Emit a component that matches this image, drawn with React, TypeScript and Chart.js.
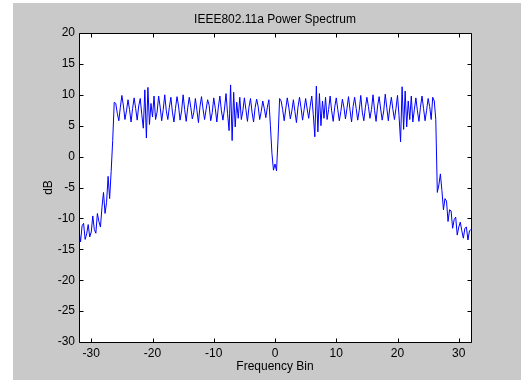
import React, { useEffect, useRef } from 'react';
import { Chart, registerables } from 'chart.js';

Chart.register(...registerables);

const titleText = 'IEEE802.11a Power Spectrum';
const xAxisLabel = 'Frequency Bin';
const yAxisLabel = 'dB';
const xTicks = [-30, -20, -10, 0, 10, 20, 30];
const yTicks = [-30, -25, -20, -15, -10, -5, 0, 5, 10, 15, 20];
const xMin = -32;
const xMax = 32;
const yMin = -30;
const yMax = 20;

// frequency bins start at -32 and advance by a quarter bin
const binStart = -32;
const binStep = 0.25;

// power (dB), one row per integer bin: values at k, k+.25, k+.5, k+.75
const powerDb = [
  -12.0, -13.8, -11.2, -10.8,
  -13.4, -12.5, -11.0, -13.0,
  -12.2, -9.6, -11.8, -12.4,
  -9.2, -10.5, -11.4, -8.2,
  -5.8, -9.2, -7.4, -3.2,
  -6.8, -2.4, 2.6, 8.8,
  8.6, 7.0, 5.8, 8.0,
  9.9, 8.2, 6.0, 7.4,
  9.2, 7.6, 5.6, 7.8,
  9.5, 7.8, 5.9, 8.2,
  9.4, 6.8, 4.6, 10.8,
  3.0, 11.2, 5.2, 8.6,
  6.4, 9.8, 6.0, 7.2,
  9.8, 8.0, 5.8, 7.6,
  10.0, 7.4, 6.0, 8.0,
  9.6, 7.2, 5.6, 7.8,
  9.7, 8.2, 5.9, 7.4,
  10.0, 7.6, 5.7, 7.9,
  9.6, 8.0, 6.1, 7.2,
  9.4, 7.5, 5.5, 8.1,
  9.7, 7.7, 6.0, 7.6,
  9.2, 8.3, 5.8, 7.1,
  9.5, 7.8, 5.6, 8.0,
  9.8, 7.4, 5.9, 7.7,
  10.2, 7.0, 4.2, 11.6,
  2.6, 10.4, 4.8, 8.8,
  6.2, 9.6, 6.0, 7.4,
  9.5, 7.6, 5.7, 8.0,
  9.4, 7.2, 5.6, 7.9,
  9.3, 8.1, 6.0, 7.3,
  9.0, 7.8, 6.3, 8.0,
  9.2, 5.0, 0.5, -2.2,
  -1.2, -2.3, 3.0, 9.4,
  9.0, 7.6, 5.8, 7.7,
  9.5, 8.0, 6.1, 7.4,
  9.2, 7.3, 5.5, 8.0,
  9.6, 7.9, 5.9, 7.6,
  9.4, 7.7, 6.2, 8.2,
  9.8, 6.8, 3.2, 11.4,
  4.0, 10.2, 5.0, 9.0,
  6.2, 9.6, 6.0, 7.6,
  9.8, 7.4, 5.7, 8.0,
  9.5, 7.6, 5.8, 7.3,
  9.3, 8.0, 6.1, 7.8,
  9.7, 7.5, 5.6, 8.1,
  9.6, 7.8, 5.9, 7.5,
  9.9, 7.2, 5.8, 7.9,
  9.6, 8.1, 6.2, 7.6,
  10.0, 7.5, 5.7, 8.2,
  9.7, 7.7, 5.9, 7.4,
  10.1, 7.9, 5.8, 8.0,
  9.6, 7.6, 6.0, 7.8,
  9.9, 6.6, 2.4, 11.3,
  4.4, 10.6, 4.8, 9.0,
  6.0, 9.8, 5.6, 7.6,
  9.5, 7.4, 5.7, 8.0,
  9.8, 7.8, 5.8, 7.5,
  9.4, 8.1, 6.0, 9.6,
  9.0, 6.0, -5.8, -4.6,
  -2.8, -5.5, -8.6, -6.8,
  -7.2, -10.5, -8.6, -8.8,
  -11.6, -10.2, -9.8, -12.7,
  -11.4, -10.6, -12.0, -13.2,
  -11.6, -11.4, -13.5, -12.0,
  -11.8,
];

const FONT = '"Liberation Sans", Arial, Helvetica, sans-serif';

export default function App() {
  const ref = useRef<HTMLCanvasElement>(null);

  useEffect(() => {
    if (!ref.current) return;
    const bins = powerDb.map((_, i) => binStart + i * binStep);

    const boxPlugin = {
      id: 'matlabBox',
      beforeDraw(chart: any) {
        const { ctx, chartArea: a } = chart;
        ctx.save();
        ctx.fillStyle = '#ffffff';
        ctx.fillRect(a.left, a.top, a.right - a.left, a.bottom - a.top);
        ctx.restore();
      },
      afterDraw(chart: any) {
        const { ctx, chartArea: a, scales } = chart;
        const L = Math.floor(a.left) + 0.5;
        const R = Math.floor(a.right) + 0.5;
        const T = Math.floor(a.top) + 0.5;
        const B = Math.floor(a.bottom) + 0.5;
        const tl = 4;
        ctx.save();
        ctx.strokeStyle = '#000000';
        ctx.lineWidth = 1;
        ctx.beginPath();
        ctx.rect(L, T, R - L, B - T);
        xTicks.forEach((v) => {
          const px = Math.round(scales.x.getPixelForValue(v)) + 0.5;
          ctx.moveTo(px, B);
          ctx.lineTo(px, B - tl);
          ctx.moveTo(px, T);
          ctx.lineTo(px, T + tl);
        });
        yTicks.forEach((v) => {
          const py = Math.round(scales.y.getPixelForValue(v)) + 0.5;
          ctx.moveTo(L, py);
          ctx.lineTo(L + tl, py);
          ctx.moveTo(R, py);
          ctx.lineTo(R - tl, py);
        });
        ctx.stroke();
        ctx.restore();
      },
    };

    const chart = new Chart(ref.current, {
      type: 'line',
      data: {
        labels: bins,
        datasets: [
          {
            data: bins.map((b, i) => ({ x: b, y: powerDb[i] })),
            borderColor: '#0000ff',
            borderWidth: 1,
            pointRadius: 0,
            tension: 0,
            fill: false,
          },
        ],
      },
      options: {
        animation: false,
        responsive: false,
        events: [],
        layout: { padding: { left: 0, top: 0, right: 50, bottom: 0 } },
        plugins: {
          legend: { display: false },
          tooltip: { enabled: false },
          title: {
            display: true,
            text: titleText,
            fullSize: false,
            color: '#000000',
            font: { family: FONT, size: 12, weight: 'normal' },
            padding: { top: 12, bottom: 6.6 },
          },
        },
        scales: {
          x: {
            type: 'linear',
            min: xMin,
            max: xMax,
            afterFit: (s: any) => { s.height = 38; },
            afterBuildTicks: (s: any) => { s.ticks = xTicks.map((v) => ({ value: v })); },
            grid: { display: false, drawTicks: false },
            border: { display: false },
            ticks: {
              color: '#000000',
              font: { family: FONT, size: 12 },
              padding: 4,
              maxRotation: 0,
              autoSkip: false,
            },
            title: {
              display: true,
              text: xAxisLabel,
              color: '#000000',
              font: { family: FONT, size: 12 },
              padding: { top: 0, bottom: 6 },
            },
          },
          y: {
            type: 'linear',
            min: yMin,
            max: yMax,
            afterFit: (s: any) => { s.width = 79; },
            afterBuildTicks: (s: any) => { s.ticks = yTicks.map((v) => ({ value: v })); },
            grid: { display: false, drawTicks: false },
            border: { display: false },
            ticks: {
              color: '#000000',
              font: { family: FONT, size: 12 },
              padding: 4,
              autoSkip: false,
            },
            title: {
              display: true,
              text: yAxisLabel,
              color: '#000000',
              font: { family: FONT, size: 12 },
              padding: { top: 41, bottom: 0 },
            },
          },
        },
      },
      plugins: [boxPlugin],
    } as any);

    return () => chart.destroy();
  }, []);

  return (
    <div style={{ position: 'fixed', left: 0, top: 0, width: 521, height: 380, background: '#ffffff', overflow: 'hidden' }}>
      <div style={{ position: 'absolute', left: 13, top: 3, width: 508, height: 377, background: '#c9c9c9' }} />
      <canvas
        ref={ref}
        width={521}
        height={380}
        style={{ position: 'absolute', left: 0, top: 0, width: 521, height: 380 }}
      />
    </div>
  );
}
